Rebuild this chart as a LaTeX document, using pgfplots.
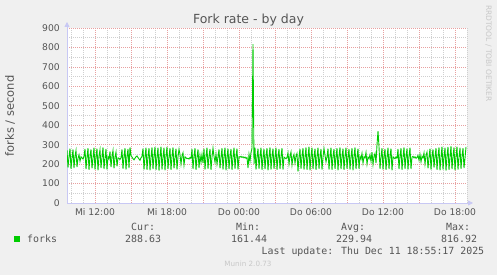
\documentclass[border=0pt]{standalone}
\usepackage{pgfplots}
\pgfplotsset{compat=1.18}
\usepackage{fontspec}
\setmainfont{DejaVu Sans}
\newfontfamily\monofont{DejaVu Sans Mono}
\usetikzlibrary{arrows.meta}
\definecolor{bg}{HTML}{F0F0F0}
\definecolor{txt}{HTML}{555555}
\definecolor{mgrid}{HTML}{E8A0A0}
\definecolor{ngrid}{HTML}{CFCFCF}
\definecolor{axblue}{HTML}{C8C8F4}
\definecolor{forkgreen}{HTML}{00CC00}
\definecolor{faint}{HTML}{C8C8C8}
\begin{document}
\begin{tikzpicture}[x=1pt,y=1pt]
\path[use as bounding box, fill=bg] (0,0) rectangle (497,275);
\begin{axis}[
  at={(67pt,72pt)}, anchor=south west, scale only axis,
  width=400pt, height=175pt,
  xmin=0, xmax=400, ymin=0, ymax=900,
  axis background/.style={fill=white},
  axis lines=left,
  axis line style={draw=axblue, line width=0.8pt},
  x axis line style={-{Triangle[length=5pt,width=5pt]}, shorten >=-6pt},
  y axis line style={-{Triangle[length=5pt,width=5pt]}, shorten >=-6pt},
  xtick={28,64,...,388},
  xticklabels={Mi 12:00,,Mi 18:00,,Do 00:00,,Do 06:00,,Do 12:00,,Do 18:00},
  minor xtick={4,16,...,400},
  ytick={0,100,...,900},
  minor ytick={50,150,...,850},
  grid=both,
  major grid style={draw=mgrid, line width=0.7pt, dash pattern=on 1pt off 1pt},
  minor grid style={draw=ngrid, line width=0.7pt, dash pattern=on 1pt off 1pt},
  major tick length=0pt, minor tick length=0pt,
  /pgf/number format/assume math mode=true,
  yticklabel style={font=\fontsize{9.2}{10}\selectfont, text=txt, inner sep=0pt, xshift=-7pt},
  xticklabel style={font=\fontsize{9.2}{10}\selectfont, text=txt, inner sep=0pt, yshift=-5pt},
]
\addplot[forkgreen, line width=0.9pt, mark=none] table[x expr=\coordindex, y index=0, header=false, row sep=\\] {
272\\ 182\\ 238\\ 280\\ 176\\ 232\\ 275\\ 180\\ 240\\ 270\\ 185\\ 230\\
248\\ 215\\ 238\\ 232\\ 226\\ 240\\
278\\ 174\\ 236\\ 282\\ 170\\ 240\\ 276\\ 178\\ 232\\ 285\\ 172\\ 238\\ 280\\ 168\\ 242\\ 274\\ 180\\ 234\\ 286\\ 175\\ 230\\ 278\\ 172\\
238\\ 226\\
265\\ 185\\ 240\\ 270\\ 178\\ 236\\ 262\\ 188\\ 232\\
230\\ 224\\ 232\\
276\\ 176\\ 238\\ 282\\ 172\\ 240\\ 278\\ 180\\ 286\\
245\\ 236\\ 228\\ 222\\ 230\\ 238\\ 242\\ 234\\ 226\\ 220\\ 232\\ 240\\
280\\ 172\\ 238\\ 284\\ 170\\ 240\\ 282\\ 168\\ 236\\ 286\\ 174\\ 242\\ 288\\ 170\\ 238\\ 285\\ 166\\ 240\\ 290\\ 172\\ 236\\ 284\\ 168\\ 242\\ 288\\ 175\\ 238\\ 282\\ 170\\ 240\\ 286\\ 178\\ 234\\ 280\\ 172\\ 238\\ 276\\
250\\ 200\\ 242\\ 258\\ 195\\ 238\\
232\\ 228\\ 230\\ 226\\ 234\\ 229\\
278\\ 175\\ 240\\ 282\\ 170\\ 236\\ 276\\ 180\\
245\\ 210\\ 250\\ 205\\
280\\ 172\\ 238\\ 284\\ 176\\ 240\\ 278\\ 170\\ 236\\ 282\\
240\\ 210\\ 252\\ 200\\ 238\\
276\\ 178\\ 236\\ 282\\ 172\\ 240\\ 285\\ 168\\ 238\\ 280\\ 174\\ 242\\ 278\\ 170\\ 236\\ 284\\ 176\\ 240\\ 280\\ 172\\ 238\\
236\\ 240\\ 234\\ 238\\ 232\\ 236\\ 230\\ 234\\
180\\
250\\ 215\\ 260\\ 280\\
816.92\\
200\\ 285\\ 172\\ 238\\ 280\\ 176\\ 240\\ 284\\ 170\\ 236\\ 278\\ 174\\ 242\\ 282\\ 168\\ 238\\ 286\\ 172\\ 240\\ 280\\ 176\\ 236\\ 284\\ 170\\ 238\\ 278\\ 174\\ 240\\ 282\\ 172\\ 236\\
232\\ 228\\ 234\\
258\\ 200\\ 240\\ 262\\ 195\\ 236\\ 250\\ 205\\ 242\\ 255\\ 161.44\\ 238\\
278\\ 176\\ 240\\ 282\\ 172\\ 236\\ 286\\ 170\\ 238\\ 290\\ 168\\ 242\\ 284\\ 174\\ 236\\ 280\\ 170\\ 240\\ 284\\ 176\\ 238\\ 278\\ 172\\ 236\\ 280\\
245\\ 212\\ 238\\
280\\ 172\\ 238\\ 284\\ 170\\ 240\\ 278\\ 176\\ 236\\ 282\\ 168\\ 242\\ 286\\ 174\\ 238\\ 280\\ 170\\ 240\\ 284\\ 176\\ 236\\ 278\\ 172\\ 238\\ 282\\ 168\\ 240\\ 286\\ 174\\ 236\\ 280\\ 175\\
240\\ 225\\ 255\\ 205\\ 238\\ 232\\ 260\\ 200\\ 236\\ 228\\ 248\\ 215\\
262\\ 198\\ 240\\ 255\\ 205\\ 300\\
370\\
290\\ 176\\ 238\\ 282\\ 172\\ 240\\ 278\\ 170\\ 236\\ 284\\ 174\\ 242\\ 280\\ 168\\ 238\\
232\\ 228\\ 236\\ 230\\
278\\ 174\\ 240\\ 282\\ 170\\ 236\\ 286\\ 176\\ 238\\ 280\\ 172\\ 242\\ 284\\ 175\\
236\\ 240\\ 232\\ 238\\ 230\\ 234\\ 245\\ 220\\ 250\\ 212\\ 240\\ 232\\
258\\ 200\\ 245\\ 262\\
178\\ 236\\ 280\\ 172\\ 240\\ 276\\ 182\\ 238\\ 282\\
170\\ 240\\ 286\\ 168\\ 236\\ 290\\ 172\\ 238\\ 284\\ 166\\ 242\\ 288\\ 170\\ 236\\ 292\\ 174\\ 240\\ 286\\ 168\\ 238\\ 290\\ 172\\ 236\\ 284\\ 176\\ 240\\ 282\\ 180\\ 230\\ 288.63\\
};
\end{axis}
\node[font=\fontsize{12.5}{14}\selectfont, text=txt, anchor=base] at (248.5,251) {Fork rate - by day};
\node[rotate=90, font=\fontsize{11.5}{13}\selectfont, text=txt] at (10,159) {forks / second};
\node[rotate=-90, font=\fontsize{7.5}{9}\selectfont, text=faint] at (488.5,221.5) {RRDTOOL / TOBI OETIKER};
\fill[forkgreen] (14,32.7) rectangle (20,38.5);
\begin{scope}[every node/.style={anchor=base west, inner sep=0pt, text=txt, font=\monofont\fontsize{9.9}{11}\selectfont}]
\node at (27,32.3) {forks};
\node at (131,44) {Cur:};
\node at (125,32.3) {288.63};
\node at (236,44) {Min:};
\node at (231,32.3) {161.44};
\node at (341,44) {Avg:};
\node at (336,32.3) {229.94};
\node at (446,44) {Max:};
\node at (441,32.3) {816.92};
\node at (261.5,20.5) {Last update: Thu Dec 11 18:55:17 2025};
\end{scope}
\node[anchor=base, inner sep=0pt, text=faint, font=\fontsize{7.2}{8}\selectfont] at (248,8.3) {Munin 2.0.73};
\end{tikzpicture}
\end{document}
